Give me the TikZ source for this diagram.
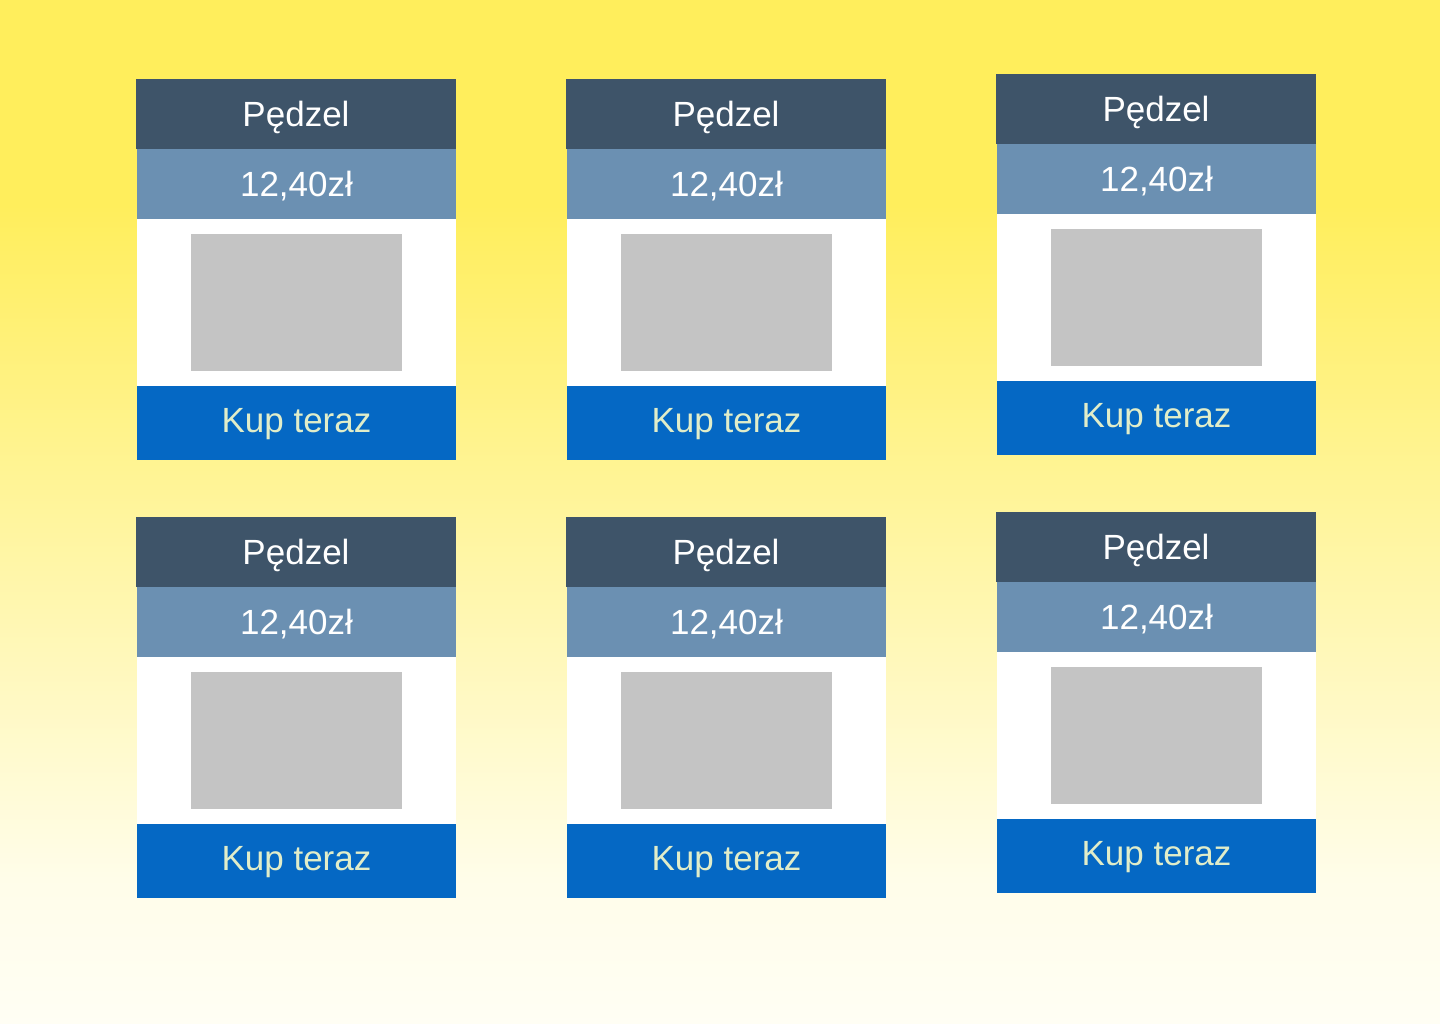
\documentclass[tikz,border=0pt]{standalone}
\usepackage{fontspec}
\setmainfont{Liberation Sans}
\definecolor{bgtop}{HTML}{FFEE5C}
\definecolor{bgbot}{HTML}{FFFEF4}
\definecolor{hdrc}{HTML}{3E5469}
\definecolor{pricec}{HTML}{6B90B2}
\definecolor{btnc}{HTML}{0568C4}
\definecolor{btntxt}{HTML}{E1EDC9}
\definecolor{imgc}{HTML}{C4C4C4}
\pgfdeclareverticalshading{bgshade}{100bp}{color(0bp)=(bgbot); color(25bp)=(bgbot); color(32bp)=(bgbot!93!bgtop); color(65bp)=(bgtop); color(75bp)=(bgtop); color(100bp)=(bgtop)}
\tikzset{
  box/.style={anchor=north west, inner sep=0pt, outer sep=0pt, draw=none,
    font=\fontsize{35}{40}\selectfont, text height=25pt, text depth=0pt},
  hdr/.style={box, fill=hdrc, text=white, minimum width=320pt, minimum height=70pt},
  price/.style={box, fill=pricec, text=white, minimum width=319pt, minimum height=70pt},
  cardbody/.style={box, fill=white, minimum width=319pt, minimum height=167pt},
  img/.style={box, fill=imgc, minimum width=211pt, minimum height=137pt},
  btn/.style={box, fill=btnc, text=btntxt, text depth=6pt, minimum width=319pt, minimum height=74pt}
}
\newcommand\prodcard[3]{%
  \begin{scope}[shift={(#2,#3)}]
    \node[hdr] (#1h) at (0,0) {Pędzel};
    \node[price] (#1p) at (1,70) {12,40zł};
    \node[cardbody] (#1b) at (1,140) {};
    \node[img] (#1i) at (55,155) {};
    \node[btn] (#1k) at (1,307) {Kup teraz};
  \end{scope}}
\begin{document}
\begin{tikzpicture}[x=1pt,y=-1pt]
  \useasboundingbox (0,0) rectangle (1440,1024);
  \shade[shading=bgshade] (0,0) rectangle (1440,1024);
  \prodcard{a}{136}{79}
  \prodcard{b}{566}{79}
  \prodcard{c}{996}{74}
  \prodcard{d}{136}{517}
  \prodcard{e}{566}{517}
  \prodcard{f}{996}{512}
\end{tikzpicture}
\end{document}
